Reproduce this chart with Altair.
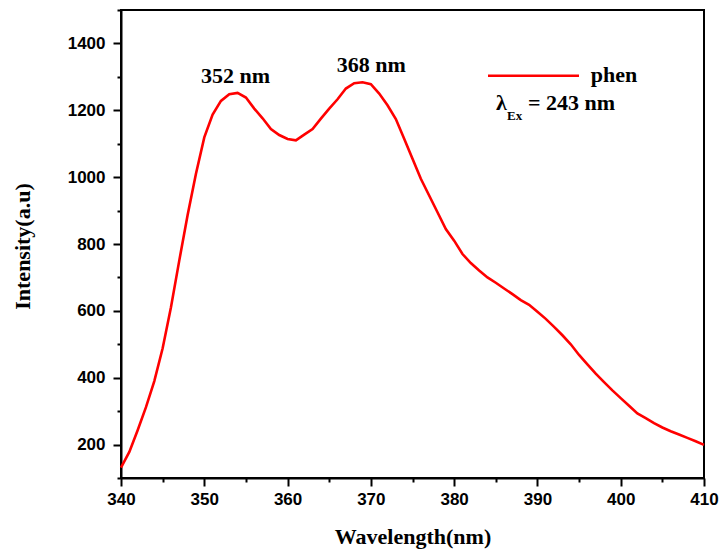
import altair as alt
import pandas as pd

# ---- data ----
wavelength = list(range(340, 411))
intensity = [
    131, 178, 243, 312, 390, 488, 611, 751, 887, 1010,    # 340-349
    1119, 1187, 1228, 1248, 1252, 1238, 1205, 1176, 1144, 1126,  # 350-359
    1114, 1110, 1127, 1144, 1175, 1205, 1233, 1265, 1281, 1284,  # 360-369
    1278, 1250, 1215, 1174, 1115, 1055, 995, 945, 895, 845,  # 370-379
    810, 770, 743, 721, 700, 684, 667, 650, 632, 618,  # 380-389
    597, 576, 552, 527, 500, 468, 440, 412, 387, 362,  # 390-399
    339, 316, 293, 279, 264, 251, 240, 230, 220, 210,  # 400-409
    199,  # 410
]
x_major = [340, 350, 360, 370, 380, 390, 400, 410]
x_minor = [345, 355, 365, 375, 385, 395, 405]
y_major = [200, 400, 600, 800, 1000, 1200, 1400]
y_minor = [100, 300, 500, 700, 900, 1100, 1300, 1500]
series_name = "phen"
peak_labels = ["352 nm", "368 nm"]

df = pd.DataFrame({"wl": wavelength, "I": intensity})

W, H = 583, 468
LABEL_FONT = "Liberation Sans"
TITLE_FONT = "Liberation Serif"

xscale = alt.Scale(domain=[340, 410], nice=False, zero=False)
yscale = alt.Scale(domain=[100, 1500], nice=False, zero=False)

line = alt.Chart(df).mark_line(color="#ff0000", strokeWidth=2.6, interpolate="linear").encode(
    x=alt.X("wl:Q", scale=xscale, axis=alt.Axis(
        orient="bottom",
        values=x_major, title="Wavelength(nm)", tickSize=8, tickWidth=2, tickColor="black",
        domainColor="black", domainWidth=2, labelFont=LABEL_FONT, labelFontSize=17,
        labelFontWeight="bold", labelColor="black", labelPadding=5, grid=False,
        titleFont=TITLE_FONT, titleFontSize=22, titleFontWeight="bold", titleColor="black",
        titleX=W / 2, titleY=65, titleAlign="center", titleBaseline="alphabetic",
        labelFlush=False, format="d")),
    y=alt.Y("I:Q", scale=yscale, axis=alt.Axis(
        orient="left",
        values=y_major, title="Intensity(a.u)", tickSize=8, tickWidth=2, tickColor="black",
        domainColor="black", domainWidth=2, labelFont=LABEL_FONT, labelFontSize=17,
        labelFontWeight="bold", labelColor="black", labelPadding=8, grid=False,
        titleFont=TITLE_FONT, titleFontSize=22, titleFontWeight="bold", titleColor="black",
        titleX=-99, titleY=H / 2 + 2, titleAngle=-90, titleAlign="center",
        titleBaseline="middle", format="d")),
)

minor = alt.Chart(df).mark_point(opacity=0).encode(
    x=alt.X("wl:Q", scale=xscale, axis=alt.Axis(
        orient="bottom",
        values=x_minor, title=None, labels=False, tickSize=4, tickWidth=2,
        tickColor="black", domain=False, grid=False)),
    y=alt.Y("I:Q", scale=yscale, axis=alt.Axis(
        orient="left",
        values=y_minor, title=None, labels=False, tickSize=4, tickWidth=2,
        tickColor="black", domain=False, grid=False)),
)

def txt(s, x, y, size=22, align="center"):
    return alt.Chart(pd.DataFrame({"t": [s]})).mark_text(
        font=TITLE_FONT, fontSize=size, fontWeight="bold", color="black",
        align=align, baseline="alphabetic").encode(
        text="t:N", x=alt.value(x), y=alt.value(y))

peak1 = txt(peak_labels[0], 114.5, 73)
peak2 = txt(peak_labels[1], 250.3, 61.7)

legend_line = alt.Chart(pd.DataFrame({"a": [0]})).mark_rule(
    color="#ff0000", strokeWidth=2.6).encode(
    x=alt.value(367), x2=alt.value(458), y=alt.value(65.7))
legend_text = txt(series_name, 469.7, 71.7, align="left")
lam = txt("λ", 375, 100, align="left")
sub = txt("Ex", 386, 110, size=13, align="left")
eq = txt("= 243 nm", 407, 100, align="left")

chart = alt.layer(line, minor, peak1, peak2, legend_line, legend_text, lam, sub, eq).resolve_axis(
    x="independent", y="independent"
).properties(
    width=W, height=H,
    autosize=alt.AutoSizeParams(type="none"),
    padding={"left": 121, "top": 10, "right": 15, "bottom": 72},
    background="white",
).configure_view(stroke="black", strokeWidth=2)

chart.save("out.html", embed_options={"renderer": "svg", "actions": False})
